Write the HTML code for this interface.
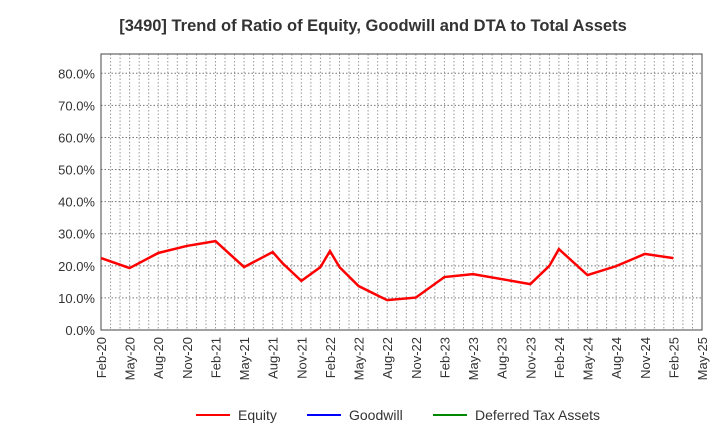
<!DOCTYPE html>
<html><head><meta charset="utf-8"><style>
body{margin:0;background:#fff;font-family:"Liberation Sans",Arial,sans-serif}
</style></head><body>
<svg width="720" height="440" xmlns="http://www.w3.org/2000/svg" font-family="Liberation Sans, Arial, sans-serif">
<text x="373" y="31" text-anchor="middle" font-size="16.5" font-weight="bold" fill="#333">[3490]  Trend of Ratio of Equity, Goodwill and DTA to Total Assets</text>
<g id="grid"></g><g id="axes"></g><g id="series"></g>
<g font-size="14" fill="#333">
<g><line x1="196" y1="415" x2="230" y2="415" stroke="#f00" stroke-width="2"/><text x="238" y="420">Equity</text></g>
<g><line x1="307" y1="415" x2="341" y2="415" stroke="#00f" stroke-width="2"/><text x="349" y="420">Goodwill</text></g>
<g><line x1="433" y1="415" x2="467" y2="415" stroke="#080" stroke-width="2"/><text x="475" y="420">Deferred Tax Assets</text></g>
</g>
</svg>
<script>
const xLabels=["Feb-20","May-20","Aug-20","Nov-20","Feb-21","May-21","Aug-21","Nov-21","Feb-22","May-22","Aug-22","Nov-22","Feb-23","May-23","Aug-23","Nov-23","Feb-24","May-24","Aug-24","Nov-24","Feb-25","May-25"];
const yTicks=[0,10,20,30,40,50,60,70,80];
const equityMonths=[0,3,6,9,12,15,18,19,21,23,24,25,27,30,33,36,39,45,47,48,51,54,57,60];
const equityValues=[22.4,19.3,24,26.2,27.7,19.6,24.3,20.9,15.3,19.6,24.6,19.6,13.7,9.3,10.1,16.5,17.4,14.3,20,25.2,17.1,19.9,23.7,22.4];
const X0=101,X1=702,Y0=330,YT=54,YMAX=86,NM=63;
const sx=m=>X0+(X1-X0)*m/NM, sy=v=>Y0-(Y0-YT)*v/YMAX;
const NS="http://www.w3.org/2000/svg";
function mk(t,a,p){const e=document.createElementNS(NS,t);for(const k in a)e.setAttribute(k,a[k]);p.appendChild(e);return e;}
const grid=document.getElementById('grid'),axes=document.getElementById('axes'),ser=document.getElementById('series');
for(let m=1;m<NM;m++){const l=mk('line',{x1:sx(m),x2:sx(m),y1:YT,y2:Y0,stroke:'#999','stroke-dasharray':'1.5,2'},grid);

}
yTicks.forEach(v=>{if(v>0){const l=mk('line',{x1:X0,x2:X1,y1:sy(v),y2:sy(v),stroke:'#777','stroke-dasharray':'1.5,2'},grid);

}
const t=mk('text',{x:X0-6,y:sy(v)+5,'text-anchor':'end','font-size':'13',fill:'#333'},axes);t.textContent=v.toFixed(1)+'%';

});
const r=mk('rect',{x:X0,y:YT,width:X1-X0,height:Y0-YT,fill:'none',stroke:'#444'},axes);


xLabels.forEach((s,i)=>{const x=sx(i*3);const t=mk('text',{x:0,y:0,transform:`translate(${x+5},${Y0+7}) rotate(-90)`,'text-anchor':'end','font-size':'13',fill:'#333'},axes);t.textContent=s;

});
const pl=mk('polyline',{points:equityMonths.map((m,i)=>sx(m)+','+sy(equityValues[i])).join(' '),fill:'none',stroke:'#f00','stroke-width':2.5},ser);


</script>
</body></html>
